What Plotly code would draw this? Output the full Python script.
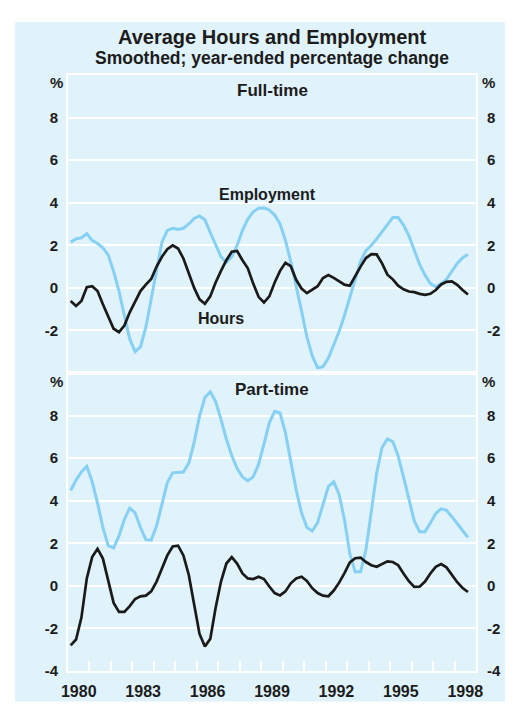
import plotly.graph_objects as go

# ---------------- data (quarterly, 1980 Q1 - 1998 Q3) ----------------
start_year = 1980
n_quarters = 75

ft_employment = [2.15, 2.3, 2.35, 2.55, 2.23,
                 2.08, 1.88, 1.54, 0.77, -0.15,
                 -1.3, -2.4, -3.0, -2.77, -1.85,
                 -0.46, 0.92, 2.15, 2.7, 2.8,
                 2.74, 2.8, 3.0, 3.26, 3.38,
                 3.2, 2.6, 2.0, 1.46, 1.2,
                 1.46, 2.0, 2.7, 3.23, 3.57,
                 3.74, 3.75, 3.66, 3.42, 3.0,
                 2.23, 1.23, 0.15, -1.08, -2.3,
                 -3.2, -3.75, -3.7, -3.3, -2.7,
                 -2.05, -1.3, -0.45, 0.4, 1.25,
                 1.75, 2.0, 2.3, 2.65, 3.0,
                 3.3, 3.3, 2.95, 2.45, 1.75,
                 1.1, 0.6, 0.2, 0.05, 0.2,
                 0.4, 0.8, 1.15, 1.42, 1.57]

ft_hours = [-0.62, -0.85, -0.62, 0.03, 0.08,
            -0.15, -0.77, -1.38, -1.92, -2.08,
            -1.77, -1.15, -0.62, -0.15, 0.15,
            0.42, 1.0, 1.46, 1.82, 2.0,
            1.85, 1.38, 0.69, 0.0, -0.54,
            -0.75, -0.4, 0.25, 0.8, 1.3,
            1.7, 1.73, 1.3, 0.92, 0.2,
            -0.42, -0.69, -0.4, 0.25, 0.8,
            1.18, 1.02, 0.38, -0.03, -0.25,
            -0.1, 0.08, 0.46, 0.6, 0.47,
            0.3, 0.15, 0.1, 0.56, 1.0,
            1.4, 1.58, 1.57, 1.15, 0.62,
            0.4, 0.1, -0.07, -0.17, -0.2,
            -0.28, -0.33, -0.28, -0.1, 0.16,
            0.28, 0.3, 0.14, -0.1, -0.31]

pt_employment = [4.48, 4.97, 5.35, 5.62, 4.89,
                 3.89, 2.74, 1.89, 1.78, 2.35,
                 3.12, 3.66, 3.43, 2.74, 2.17,
                 2.15, 2.82, 3.89, 4.85, 5.31,
                 5.32, 5.35, 5.77, 6.74, 7.97,
                 8.85, 9.12, 8.66, 7.82, 6.89,
                 6.12, 5.51, 5.12, 4.94, 5.12,
                 5.71, 6.66, 7.66, 8.2, 8.12,
                 7.2, 5.82, 4.51, 3.43, 2.74,
                 2.58, 2.97, 3.82, 4.66, 4.89,
                 4.3, 3.1, 1.5, 0.66, 0.66,
                 1.7, 3.43, 5.3, 6.5, 6.9,
                 6.78, 6.1, 5.12, 4.05, 3.05,
                 2.54, 2.54, 2.95, 3.4, 3.62,
                 3.55, 3.25, 2.9, 2.6, 2.28]

pt_hours = [-2.8, -2.52, -1.49, 0.35, 1.35,
            1.74, 1.28, 0.2, -0.8, -1.22,
            -1.22, -0.95, -0.62, -0.49, -0.46,
            -0.26, 0.2, 0.82, 1.43, 1.85,
            1.89, 1.43, 0.51, -0.88, -2.26,
            -2.85, -2.49, -1.03, 0.2, 1.05,
            1.35, 1.05, 0.58, 0.35, 0.32,
            0.43, 0.32, -0.03, -0.34, -0.45,
            -0.26, 0.12, 0.35, 0.43, 0.23,
            -0.11, -0.34, -0.46, -0.49, -0.22,
            0.15, 0.6, 1.1, 1.3, 1.33,
            1.12, 0.97, 0.9, 1.02, 1.15,
            1.12, 0.97, 0.58, 0.22, -0.05,
            -0.04, 0.2, 0.58, 0.89, 1.02,
            0.87, 0.51, 0.17, -0.1, -0.29]

year_labels = ["1980", "1983", "1986", "1989", "1992", "1995", "1998"]
ft_ticks = [-2, 0, 2, 4, 6, 8]
pt_ticks = [-4, -2, 0, 2, 4, 6, 8]
y_range = [-4, 10]
x_range = [1980, 1999]

# decimal-year position of each quarter (mid-quarter)
x = [start_year + (i // 4) + ((i % 4) + 0.5) / 4 for i in range(n_quarters)]

# ---------------- styling ----------------
FONT = "Liberation Sans, Arial, Helvetica, sans-serif"
TXT = "#1c1c1c"
BG = "#e0f2fa"
BLUE = "#86d0f3"
BLACK = "#1a1a1a"

fig = go.Figure()
fig.add_trace(go.Scatter(x=x, y=ft_employment, xaxis="x2", yaxis="y2", mode="lines",
                         line=dict(color=BLUE, width=3), showlegend=False))
fig.add_trace(go.Scatter(x=x, y=pt_employment, xaxis="x", yaxis="y", mode="lines",
                         line=dict(color=BLUE, width=3), showlegend=False))
fig.add_trace(go.Scatter(x=x, y=ft_hours, xaxis="x2", yaxis="y4", mode="lines",
                         line=dict(color=BLACK, width=2.7), showlegend=False))
fig.add_trace(go.Scatter(x=x, y=pt_hours, xaxis="x", yaxis="y3", mode="lines",
                         line=dict(color=BLACK, width=2.7), showlegend=False))

tickfont = dict(family=FONT, size=15, color=TXT, weight="bold")


def lab(v):
    return str(v)  # plain hyphen-minus as in the original


common_y = dict(range=y_range, zeroline=False, showline=True, linecolor="white",
                linewidth=2, ticks="", tickfont=tickfont, fixedrange=True)

fig.update_layout(
    width=513, height=704,
    margin=dict(l=60, r=45, t=67, b=31),
    paper_bgcolor="white", plot_bgcolor=BG,
    xaxis=dict(domain=[0, 1], anchor="y", range=x_range,
               tickmode="array",
               tickvals=[int(s) + 0.5 for s in year_labels], ticktext=year_labels,
               ticks="", showgrid=False, zeroline=False,
               showline=True, linecolor="white", linewidth=2, mirror=True,
               tickfont=dict(tickfont, size=16), ticklabelstandoff=5,
               minor=dict(tickmode="array", tickvals=list(range(1981, 1999)),
                          ticks="inside", ticklen=10, tickcolor="white",
                          tickwidth=2, showgrid=False)),
    xaxis2=dict(domain=[0, 1], anchor="y2", range=x_range, matches="x",
                showticklabels=False, ticks="", showgrid=False, zeroline=False,
                showline=True, linecolor="white", linewidth=2, mirror=True),
    yaxis=dict(domain=[0, 0.5], anchor="x", tickmode="array", tickvals=pt_ticks,
               ticktext=[lab(v) for v in pt_ticks],
               showgrid=True, gridcolor="white", gridwidth=2, mirror=True,
               ticklabelstandoff=5, **common_y),
    yaxis2=dict(domain=[0.5, 1], anchor="x2", tickmode="array", tickvals=ft_ticks,
                ticktext=[lab(v) for v in ft_ticks],
                showgrid=True, gridcolor="white", gridwidth=2, mirror=True,
                ticklabelstandoff=5, **common_y),
    yaxis3=dict(overlaying="y", side="right", anchor="x", tickmode="array",
                tickvals=pt_ticks, ticktext=[lab(v) for v in pt_ticks],
                showgrid=False, ticklabelstandoff=6, **common_y),
    yaxis4=dict(overlaying="y2", side="right", anchor="x2", tickmode="array",
                tickvals=ft_ticks, ticktext=[lab(v) for v in ft_ticks],
                showgrid=False, ticklabelstandoff=6, **common_y),
    shapes=[dict(type="rect", xref="paper", yref="paper",
                 x0=(7 - 60) / 408, x1=(513 - 60) / 408,
                 y0=(673 - 704) / 606, y1=(673 - 13) / 606,
                 fillcolor=BG, line=dict(width=0), layer="below")],
)


def py(px):
    """pixel row -> paper y"""
    return (673 - px) / 606


def ann(text, xv, yv, size, xref="paper", xanchor="center", xshift=0):
    fig.add_annotation(text=f"<b>{text}</b>", x=xv, y=yv, xref=xref, yref="paper",
                       showarrow=False, xanchor=xanchor, yanchor="middle", xshift=xshift,
                       font=dict(family=FONT, size=size, color=TXT), borderpad=0)


ann("Average Hours and Employment", 0.5, py(28), 20)
ann("Smoothed; year-ended percentage change", 0.5, py(49.5), 17.5)
ann("Full-time", 0.5, py(83), 17)
ann("Part-time", 0.5, py(386.5), 17)
ann("Employment", 1989.27, py(188.5), 16, xref="x")
ann("Hours", 1987.13, py(315), 16, xref="x")
for yy in (py(75), py(379)):
    ann("%", 0, yy, 15, xanchor="right", xshift=-4)
    ann("%", 1, yy, 15, xanchor="left", xshift=5)

fig.write_html("out.html")
